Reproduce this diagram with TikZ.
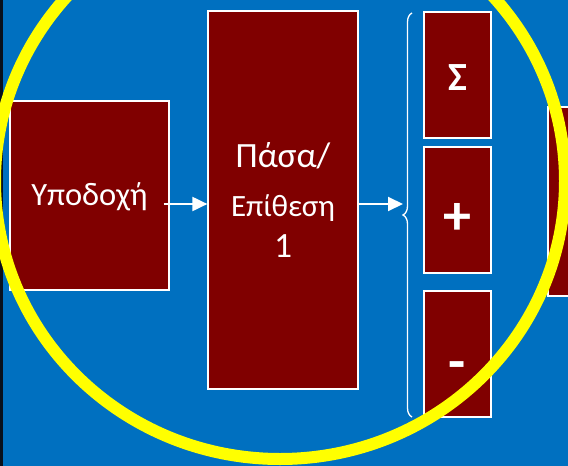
\documentclass[tikz,border=0pt]{standalone}
\usepackage{fontspec}
\setmainfont{Carlito}
\usetikzlibrary{arrows.meta,decorations.pathreplacing}
\definecolor{bg}{RGB}{0,112,192}
\definecolor{boxred}{RGB}{128,0,0}
\definecolor{ring}{RGB}{255,255,0}
\definecolor{edgestrip}{RGB}{8,16,28}
\begin{document}
\begin{tikzpicture}[x=1pt,y=-1pt,
  blk/.style={draw=white, line width=1.2pt, fill=boxred, text=white, inner sep=0pt},
  lbl/.style={text=white, inner sep=0pt},
  arr/.style={draw=white, line width=2pt, -{Triangle[length=15pt,width=14pt]}},
  bracestyle/.style={draw=white, line width=1.3pt, decorate, decoration={brace, amplitude=9pt}},
]
\useasboundingbox (0,0) rectangle (568,466);
\clip (0,0) rectangle (568,466);
\fill[bg] (0,0) rectangle (568,466);
\fill[edgestrip] (0,0) rectangle (2.6,466);

% boxes
\node[blk, minimum width=159pt, minimum height=189pt] (rec) at (89.5,195.5) {};
\node[lbl, anchor=base, font=\fontsize{32.5pt}{38pt}\selectfont] (rect) at (89.5,205.5) {Υποδοχή};

\node[blk, minimum width=150pt, minimum height=378pt] (pass) at (283,200) {};
\node[lbl, anchor=base, font=\fontsize{35.5pt}{42pt}\selectfont] (pass1) at (283,167) {Πάσα/};
\node[lbl, anchor=base, font=\fontsize{31pt}{37pt}\selectfont] (pass2) at (283,216) {Επίθεση};
\node[lbl, anchor=base, font=\fontsize{35.5pt}{42pt}\selectfont] (pass3) at (283,257) {1};

\node[blk, minimum width=67pt, minimum height=126pt] (sig) at (457.5,75) {};
\node[lbl, anchor=base, font=\bfseries\fontsize{40pt}{46pt}\selectfont] (sigt) at (457.5,90) {Σ};

\node[blk, minimum width=67pt, minimum height=126pt] (plus) at (457.5,210) {};
\node[lbl, font=\bfseries\fontsize{56pt}{62pt}\selectfont] (plust) at (457.5,219) {+};

\node[blk, minimum width=67pt, minimum height=126pt] (minus) at (457.5,354) {};
\node[lbl, font=\bfseries\fontsize{56pt}{62pt}\selectfont] (minust) at (457.5,371) {-};

\node[blk, minimum width=159pt, minimum height=189pt] (next) at (627.5,201.5) {};

% brace and arrows
\draw[bracestyle] (412,417) -- (412,13);
\coordinate (bracetip) at (403,204);
\draw[arr] ([xshift=-6pt,yshift=-8.5pt]rec.east) -- ([yshift=-4pt]pass.west);
\draw[arr] ([yshift=-4pt]pass.east) -- (bracetip);

% ring
\draw[ring, line width=12pt] (280,181) ellipse [x radius=285pt, y radius=278pt];
\end{tikzpicture}
\end{document}
